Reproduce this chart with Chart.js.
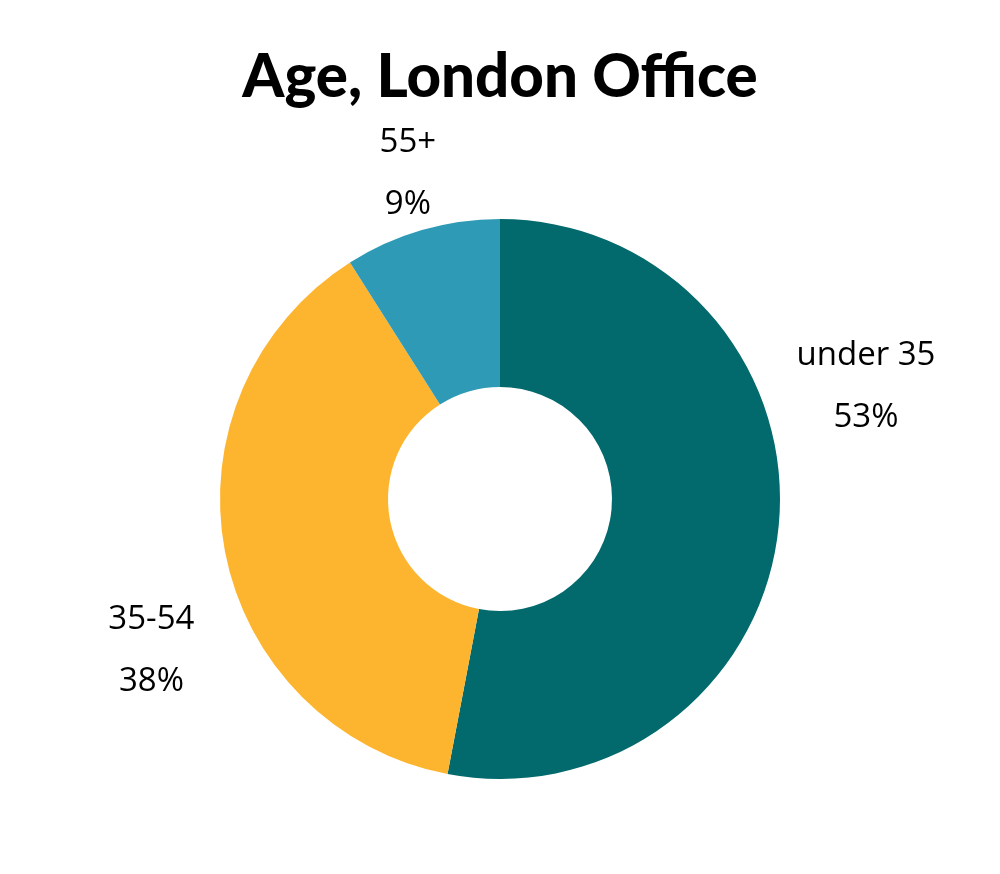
<!DOCTYPE html>
<html>
<head>
<meta charset="utf-8">
<script src="https://cdn.jsdelivr.net/npm/chart.js@4/dist/chart.umd.min.js"></script>
<style>
    html, body { margin: 0; padding: 0; background: #fff; }
    #wrap { width: 1000px; height: 874px; }
</style>
</head>
<body>
<div id="wrap"><canvas id="ageChart"></canvas></div>
<script>
// Chart data
const categories = ['under 35', '35-54', '55+'];
const shares = [53, 38, 9];
const sliceColors = ['#02696D', '#FDB52F', '#2E9AB5'];

// Where each label sits, relative to the doughnut centre, in outer radii
const labelOffsets = [
    [1.307, -0.40],
    [-1.245, 0.543],
    [-0.329, -1.161]
];

// Draws the category + percent labels beside each slice
const sliceLabels = {
    id: 'sliceLabels',
    afterDatasetsDraw(chart) {
        const ctx = chart.ctx;
        const arcs = chart.getDatasetMeta(0).data;
        ctx.save();
        ctx.fillStyle = '#000';
        ctx.font = '33px "Open Sans"';
        ctx.textAlign = 'center';
        ctx.textBaseline = 'middle';
        arcs.forEach((arc, i) => {
            const r = arc.outerRadius;
            const x = arc.x + labelOffsets[i][0] * r;
            const y = arc.y + labelOffsets[i][1] * r;
            ctx.fillText(categories[i], x, y - 31);
            ctx.fillText(shares[i] + '%', x, y + 31);
        });
        ctx.restore();
    }
};

const ctx = document.getElementById('ageChart').getContext('2d');
new Chart(ctx, {
    type: 'doughnut',
    data: {
        labels: categories,
        datasets: [{
            data: shares,
            backgroundColor: sliceColors,
            borderWidth: 0
        }]
    },
    options: {
        responsive: true,
        maintainAspectRatio: false,
        animation: false,
        cutout: '40%',
        layout: {
            padding: { top: 0, bottom: 95, left: 0, right: 0 }
        },
        plugins: {
            legend: { display: false },
            tooltip: { enabled: false },
            title: {
                display: true,
                text: 'Age, London Office',
                color: '#000',
                font: { family: 'Lato', size: 60, weight: '900', lineHeight: 1.2 },
                padding: { top: 42, bottom: 105 }
            }
        }
    },
    plugins: [sliceLabels]
});
</script>
</body>
</html>
